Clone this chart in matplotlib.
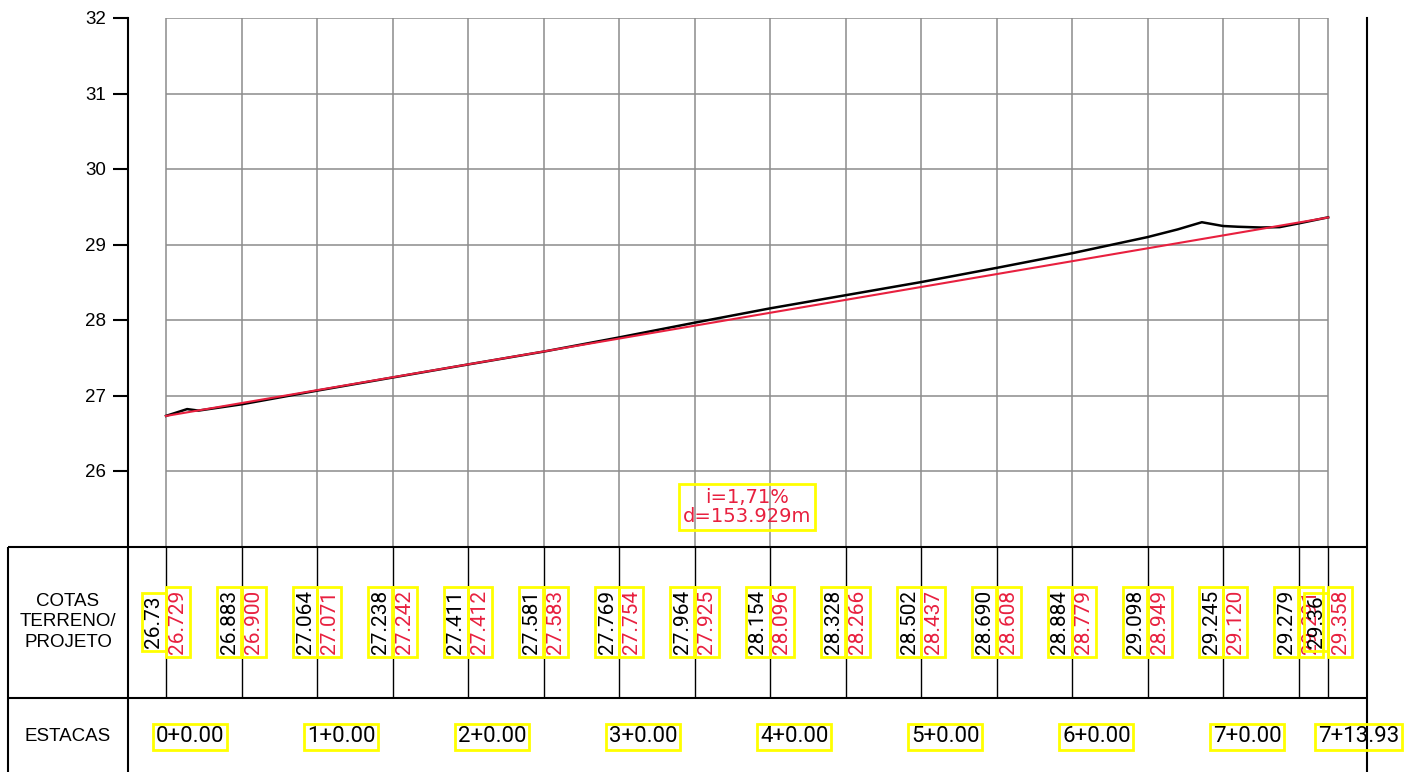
import numpy as np
import matplotlib.pyplot as plt

# Stations (m) and elevations read from the profile
stations = [0, 10, 20, 30, 40, 50, 60, 70, 80, 90, 100, 110, 120, 130, 140, 150, 153.929]
cota_terreno = [26.73, 26.883, 27.064, 27.238, 27.411, 27.581, 27.769, 27.964, 28.154,
                28.328, 28.502, 28.690, 28.884, 29.098, 29.245, 29.279, 29.36]
cota_projeto = [26.729, 26.900, 27.071, 27.242, 27.412, 27.583, 27.754, 27.925, 28.096,
                28.266, 28.437, 28.608, 28.779, 28.949, 29.120, 29.291, 29.358]
terreno_labels = ['26.73', '26.883', '27.064', '27.238', '27.411', '27.581', '27.769', '27.964',
                  '28.154', '28.328', '28.502', '28.690', '28.884', '29.098', '29.245', '29.279', '29.36']
projeto_labels = ['26.729', '26.900', '27.071', '27.242', '27.412', '27.583', '27.754', '27.925',
                  '28.096', '28.266', '28.437', '28.608', '28.779', '28.949', '29.120', '29.291', '29.358']

# extra terrain points for the bumps of the ground line
extra_st = [2.8, 4.3, 134.0, 137.2, 142.0, 145.0, 147.5]
extra_z = [26.82, 26.80, 29.20, 29.295, 29.235, 29.225, 29.23]

estacas_pos = [0, 20, 40, 60, 80, 100, 120, 140, 153.929]
estacas_labels = ['0+0.00', '1+0.00', '2+0.00', '3+0.00', '4+0.00', '5+0.00', '6+0.00', '7+0.00', '7+13.93']

yticks = [26, 27, 28, 29, 30, 31, 32]
rampa_txt = 'i=1,71%\nd=153.929m'

RED = '#e8203f'
YEL = '#ffff00'
GRID = '#8c8c8c'
CAD = ['Roboto', 'DejaVu Sans']
ARIAL = ['Liberation Sans', 'DejaVu Sans']

# merge ground points
terr = sorted(zip(stations + extra_st, cota_terreno + extra_z))
terr_x = [p[0] for p in terr]
terr_z = [p[1] for p in terr]

fig = plt.figure(figsize=(14.08, 7.72), dpi=100)
# pixel scale: 7.55 px per metre horizontally, 75.5 px per metre vertically
px_x = 7.55
px_y = 75.5
ax = fig.add_axes([128 / 1408, 0, (1367 - 128) / 1408, (772 - 18) / 772])
ax.set_xlim(-(166 - 128) / px_x, (1367 - 166) / px_x)
ax.set_ylim(32 - (772 - 18) / px_y, 32)

x_end = stations[-1]
z_base = 25
z_row = 23
tab_left = -(166 - 8) / px_x
x_title = -(166 - 68) / px_x

# grid of the profile
ax.vlines(stations, z_base, yticks[-1], color=GRID, lw=1.1, zorder=1)
ax.hlines(yticks, 0, x_end, color=GRID, lw=1.1, zorder=1)

# terrain and design lines
ax.plot(terr_x, terr_z, color='black', lw=1.8, zorder=3)
ax.plot([stations[0], stations[-1]], [cota_projeto[0], cota_projeto[-1]], color=RED, lw=1.5, zorder=4)

# slope note
ax.text(x_end / 2, 25.52, rampa_txt, color=RED, ha='center', va='center', fontsize=14,
        linespacing=1.0, bbox=dict(facecolor='none', edgecolor=YEL, lw=2, pad=3))

# table lines
ax.hlines([z_base, z_row], tab_left, ax.get_xlim()[1], color='black', lw=1.5, clip_on=False)
ax.vlines(tab_left, ax.get_ylim()[0], z_base, color='black', lw=1.5, clip_on=False)
ax.vlines(stations, z_row, z_base, color='black', lw=1.0)

# row titles
ax.text(x_title, 24.0, 'COTAS\nTERRENO/\nPROJETO', ha='center', va='center',
        fontsize=13.5, family=ARIAL, linespacing=1.25, clip_on=False)
ax.text(x_title, 22.48, 'ESTACAS', ha='center', va='center',
        fontsize=13.5, family=ARIAL, clip_on=False)

# elevations, rotated
off = 12 / px_x
for s, lt, lp in zip(stations, terreno_labels, projeto_labels):
    ax.text(s - off, 24.0, lt, rotation=90, ha='center', va='center', fontsize=15, family=CAD,
            color='black', bbox=dict(facecolor='none', edgecolor=YEL, lw=2, pad=2))
    ax.text(s + off, 24.0, lp, rotation=90, ha='center', va='center', fontsize=15, family=CAD,
            color=RED, bbox=dict(facecolor='none', edgecolor=YEL, lw=2, pad=2))

# stations
for s, lab in zip(estacas_pos, estacas_labels):
    ax.text(s - 10 / px_x, 22.48, lab, ha='left', va='center', fontsize=16, family=CAD, clip_on=False,
            bbox=dict(facecolor='none', edgecolor=YEL, lw=2, pad=2))

# axis styling
ax.set_yticks(yticks)
ax.set_xticks([])
ax.tick_params(axis='y', length=11, width=1.5, pad=5, labelsize=13.5)
for lab in ax.get_yticklabels():
    lab.set_family(ARIAL)
ax.spines['top'].set_visible(False)
ax.spines['bottom'].set_visible(False)
ax.spines['left'].set_linewidth(1.5)
ax.spines['right'].set_linewidth(1.5)

fig.savefig('out.png', dpi=100)
